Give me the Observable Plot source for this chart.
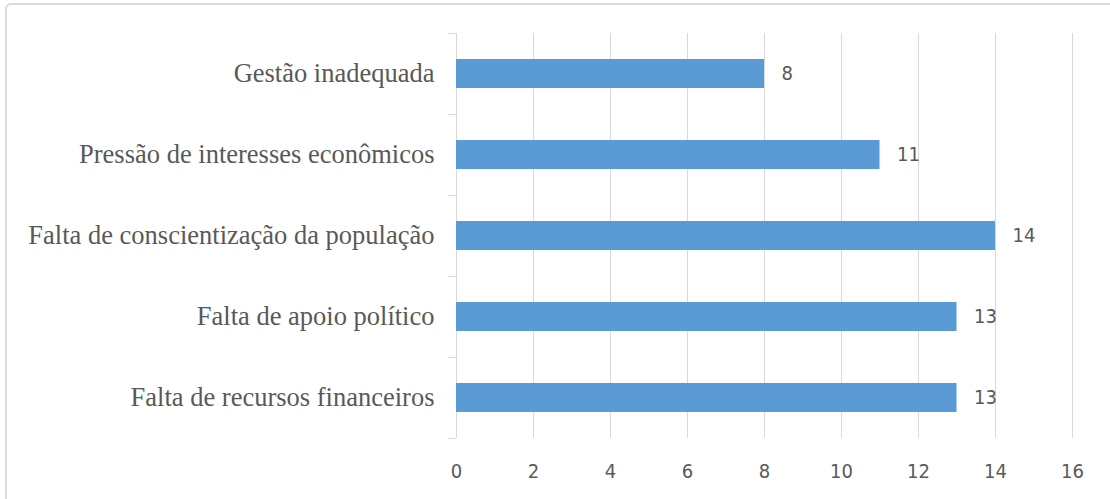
<!DOCTYPE html>
<html>
<head>
<meta charset="utf-8">
<script src="https://cdn.jsdelivr.net/npm/d3@7"></script>
<script src="https://cdn.jsdelivr.net/npm/@observablehq/plot@0.6"></script>
<style>
  html, body { margin: 0; padding: 0; background: #fff; }
  #wrap { position: relative; width: 1110px; height: 499px; overflow: hidden; background: #fff; }
  #frame { position: absolute; left: 5px; top: 3px; width: 1200px; height: 600px;
           border: 2px solid #d9d9d9; border-radius: 6px; box-sizing: border-box; }
  #chart { position: absolute; left: 0; top: 0; }
  #chart svg { background: transparent !important; }
  g[aria-label^="y-axis"] text { font-family: "Liberation Serif", "Times New Roman", serif; font-size: 26.5px; }
  g[aria-label^="x-axis"] text { font-family: "Liberation Sans Narrow", "Arial Narrow", "DejaVu Sans Condensed", sans-serif; font-size: 20px; }
</style>
</head>
<body>
<div id="wrap"><div id="frame"></div><div id="chart"></div></div>
<script>
const categories = [
  "Gestão inadequada",
  "Pressão de interesses econômicos",
  "Falta de conscientização da população",
  "Falta de apoio político",
  "Falta de recursos financeiros"
];
const values = [8, 11, 14, 13, 13];
const xTicks = [0, 2, 4, 6, 8, 10, 12, 14, 16];

const data = categories.map((c, i) => ({category: c, value: values[i]}));

const grid = "#d9d9d9";
const textColor = "#595959";
const sansNarrow = "'Liberation Sans Narrow', 'Arial Narrow', 'DejaVu Sans Condensed', sans-serif";

const chart = Plot.plot({
  width: 1110,
  height: 499,
  marginLeft: 456,
  marginRight: 38,
  marginTop: 33,
  marginBottom: 61,
  style: {color: textColor, background: "transparent"},
  x: {domain: [0, 16], ticks: xTicks, tickSize: 0, tickPadding: 25, label: null},
  y: {domain: categories, paddingInner: 0.64, paddingOuter: 0.32, tickSize: 0, tickPadding: 22, label: null},
  marks: [
    Plot.ruleX(xTicks, {x: d => d, stroke: grid, strokeOpacity: 1, strokeWidth: 1}),
    Plot.ruleY(categories, {y: d => d, x1: -0.21, x2: 0, dy: -40.5, stroke: grid}),
    Plot.ruleY(categories.slice(-1), {y: d => d, x1: -0.21, x2: 0, dy: 40.5, stroke: grid}),
    Plot.barX(data, {x: "value", y: "category", fill: "#5b9bd5"}),
    Plot.text(data, {
      x: "value", y: "category", text: d => String(d.value),
      textAnchor: "start", dx: 17, fill: textColor,
      fontSize: 20, fontFamily: sansNarrow
    })
  ]
});
document.getElementById("chart").appendChild(chart);
</script>
</body>
</html>
